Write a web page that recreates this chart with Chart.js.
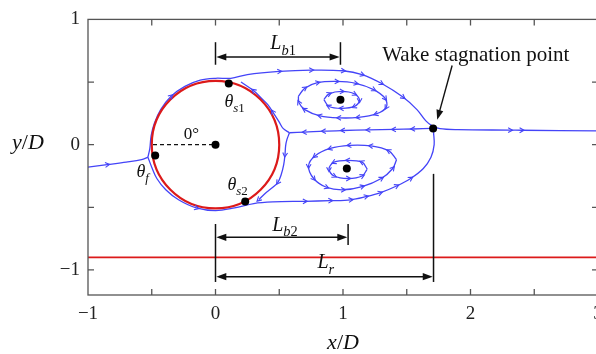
<!DOCTYPE html>
<html>
<head>
<meta charset="utf-8">
<script src="https://cdn.jsdelivr.net/npm/chart.js@4.4.1/dist/chart.umd.min.js"></script>
<style>
  html, body { margin: 0; padding: 0; overflow: hidden; background: #fff; }
</style>
</head>
<body>
<canvas id="flowChart" width="612" height="354"></canvas>
<script>
// axis ranges / ticks
const X_RANGE = [-1, 3];
const Y_RANGE = [-1.2, 1];
const TICK_STEP = 0.5;

// streamlines, [x/D, y/D]
const inflowLine = [[-1, -0.18], [-0.85, -0.16], [-0.7, -0.14], [-0.58, -0.12], [-0.53, -0.1]];
const upperSeparatrix = [[-0.53, -0.1], [-0.515, -0.03], [-0.505, 0.07], [-0.48, 0.17], [-0.43, 0.28], [-0.35, 0.385],
  [-0.24, 0.465], [-0.12, 0.515], [0, 0.53], [0.12, 0.53], [0.25, 0.56], [0.5, 0.585], [0.75, 0.595], [1.0, 0.59],
  [1.15, 0.56], [1.3, 0.49], [1.47, 0.38], [1.58, 0.28], [1.65, 0.19], [1.7, 0.15], [1.76, 0.128], [1.9, 0.12],
  [2.31, 0.116], [2.4, 0.115], [3, 0.11]];
const lowerSeparatrix = [[-0.53, -0.1], [-0.5, -0.18], [-0.46, -0.27], [-0.39, -0.36], [-0.29, -0.44], [-0.15, -0.505],
  [0, -0.527], [0.15, -0.505], [0.3, -0.47], [0.45, -0.457], [0.7, -0.452], [0.9, -0.447], [1.06, -0.44], [1.18, -0.415],
  [1.29, -0.385], [1.42, -0.33], [1.53, -0.27], [1.63, -0.19], [1.69, -0.1], [1.715, 0.0], [1.71, 0.1]];
const middleLine = [[1.7, 0.13], [1.55, 0.125], [1.4, 0.122], [1.2, 0.118], [1.0, 0.113], [0.85, 0.108], [0.7, 0.1], [0.58, 0.095]];
const upperInner = [[0.58, 0.095], [0.53, 0.13], [0.5, 0.18], [0.45, 0.26], [0.41, 0.32], [0.37, 0.36], [0.3, 0.43], [0.2, 0.5]];
const lowerInner = [[0.58, 0.095], [0.56, 0.04], [0.55, -0.01], [0.545, -0.08], [0.535, -0.16], [0.515, -0.24], [0.49, -0.3],
  [0.45, -0.34], [0.4, -0.38], [0.34, -0.437]];
const upperOuterLoop = [[0.65, 0.385], [0.7, 0.45], [0.8, 0.495], [0.95, 0.505], [1.1, 0.49], [1.24, 0.44], [1.33, 0.37],
  [1.34, 0.3], [1.26, 0.245], [1.12, 0.218], [0.97, 0.214], [0.82, 0.23], [0.7, 0.28], [0.655, 0.335], [0.65, 0.385]];
const upperInnerLoop = [[0.85, 0.36], [0.89, 0.405], [0.99, 0.425], [1.09, 0.405], [1.13, 0.355], [1.09, 0.305],
  [0.99, 0.29], [0.89, 0.305], [0.85, 0.36]];
const lowerOuterLoop = [[1.42, -0.12], [1.36, -0.05], [1.22, -0.01], [1.05, -0.005], [0.9, -0.03], [0.78, -0.09],
  [0.73, -0.17], [0.77, -0.27], [0.87, -0.34], [1.0, -0.36], [1.15, -0.335], [1.3, -0.27], [1.39, -0.19], [1.42, -0.12]];
const lowerInnerLoop = [[1.19, -0.195], [1.15, -0.14], [1.04, -0.125], [0.93, -0.14], [0.89, -0.195], [0.93, -0.25],
  [1.04, -0.27], [1.15, -0.25], [1.19, -0.195]];

// which points of each streamline carry a flow arrow
const inflowArrows = [1];
const upperSepArrows = [5, 11, 12, 13, 14, 15, 16, 22, 23];
const lowerSepArrows = [5, 10, 11, 12, 13, 14, 15, 16];
const middleArrows = [1, 2, 3, 4, 5, 6];
const upperInnerArrows = [3, 6];
const lowerInnerArrows = [3, 6, 9];

// special points: theta_f, theta_s1, theta_s2, centre, two vortex cores, wake stagnation
const markerPoints = [[-0.473, -0.086], [0.104, 0.489], [0.233, -0.453], [0, 0], [0.98, 0.358], [1.03, -0.19], [1.707, 0.13]];
const zeroAngleLine = [[-0.49, 0], [0, 0]];
const wallLine = [[-1, -0.9], [3, -0.9]];

// cylinder
const CYL_CENTER = [0, 0];
const CYL_RADIUS = 0.5;

// dimension bars Lb1, Lb2, Lr
const dimStart = [0, 0, 0];
const dimEnd = [0.98, 1.04, 1.71];
const dimLevel = [0.70, -0.74, -1.054];
const extX = [0, 0.98, 0, 1.04, 1.71];
const extTop = [0.818, 0.818, -0.633, -0.633, -0.233];
const extBottom = [0.638, 0.638, -1.096, -0.80, -1.096];

// labels: position (data coords, left/baseline) and rich text parts
const labelPos = [[0.43, 0.763], [0.445, -0.688], [0.80, -0.988], [0.07, 0.30], [-0.62, -0.256], [0.094, -0.358], [-0.25, 0.044]];
const labelParts = [
  [['L', 'i'], ['b', 'is'], ['1', 's']],
  [['L', 'i'], ['b', 'is'], ['2', 's']],
  [['L', 'i'], ['r', 'is']],
  [['θ', 'i'], ['s', 'is'], ['1', 's']],
  [['θ', 'i'], ['f', 'is']],
  [['θ', 'i'], ['s', 'is'], ['2', 's']],
  [['0°', '']]
];
const labelSize = [20, 20, 20, 18, 18, 18, 17];
const wakeText = 'Wake stagnation point';
const wakeTextPos = [1.307, 0.664];
const wakeArrow = [[1.856, 0.632], [1.739, 0.198]];

const BLUE = '#4444f8';
const RED = '#dc1a1a';
const SERIF = '"Liberation Serif", "Times New Roman", serif';

const pts = (arr) => arr.map(([x, y]) => ({ x, y }));

function stream(data, arrows, extra) {
  return Object.assign({
    data: pts(data),
    showLine: true,
    borderColor: BLUE,
    borderWidth: 1.3,
    pointRadius: 0,
    tension: 0.35,
    arrows: arrows,
    order: 5
  }, extra || {});
}

function drawRich(ctx, x, y, parts, size, align) {
  const fontFor = (style) => {
    const sub = style.includes('s');
    return `${style.includes('i') ? 'italic ' : ''}${sub ? size * 0.72 : size}px ${SERIF}`;
  };
  let total = 0;
  parts.forEach(([t, s]) => { ctx.font = fontFor(s); total += ctx.measureText(t).width; });
  let cx = align === 'center' ? x - total / 2 : x;
  ctx.textAlign = 'left';
  ctx.textBaseline = 'alphabetic';
  parts.forEach(([t, s]) => {
    ctx.font = fontFor(s);
    ctx.fillText(t, cx, y + (s.includes('s') ? size * 0.28 : 0));
    cx += ctx.measureText(t).width;
  });
}

function arrowHead(ctx, x0, y0, x1, y1, len, half) {
  const a = Math.atan2(y1 - y0, x1 - x0);
  ctx.beginPath();
  ctx.moveTo(x1, y1);
  ctx.lineTo(x1 - len * Math.cos(a) + half * Math.sin(a), y1 - len * Math.sin(a) - half * Math.cos(a));
  ctx.lineTo(x1 - len * Math.cos(a) - half * Math.sin(a), y1 - len * Math.sin(a) + half * Math.cos(a));
  ctx.closePath();
  ctx.fill();
}

// cylinder drawn just under the marker dots
const cylinderPlugin = {
  id: 'cylinder',
  beforeDatasetDraw(chart, args) {
    if (chart.data.datasets[args.index].id !== 'markers') return;
    const { ctx, scales: { x, y } } = chart;
    const cx = x.getPixelForValue(CYL_CENTER[0]);
    const cy = y.getPixelForValue(CYL_CENTER[1]);
    const r = x.getPixelForValue(CYL_CENTER[0] + CYL_RADIUS) - cx;
    ctx.save();
    ctx.strokeStyle = RED;
    ctx.lineWidth = 2.2;
    ctx.beginPath();
    ctx.arc(cx, cy, r, 0, Math.PI * 2);
    ctx.stroke();
    ctx.restore();
  }
};

// chevrons along streamlines
const flowArrowPlugin = {
  id: 'flowArrows',
  afterDatasetsDraw(chart) {
    const ctx = chart.ctx;
    ctx.save();
    ctx.strokeStyle = BLUE;
    ctx.lineWidth = 1.1;
    chart.data.datasets.forEach((ds, i) => {
      if (!ds.arrows) return;
      const els = chart.getDatasetMeta(i).data;
      const idx = ds.arrows === 'all' ? els.map((_, k) => k).slice(1, -1) : ds.arrows;
      idx.forEach((k) => {
        const p = els[k], a = els[Math.max(k - 1, 0)], b = els[Math.min(k + 1, els.length - 1)];
        const ang = Math.atan2(b.y - a.y, b.x - a.x);
        const tx = p.x + 2.5 * Math.cos(ang), ty = p.y + 2.5 * Math.sin(ang);
        ctx.beginPath();
        ctx.moveTo(tx - 5 * Math.cos(ang - 0.5), ty - 5 * Math.sin(ang - 0.5));
        ctx.lineTo(tx, ty);
        ctx.lineTo(tx - 5 * Math.cos(ang + 0.5), ty - 5 * Math.sin(ang + 0.5));
        ctx.stroke();
      });
    });
    ctx.restore();
  }
};

// frame, inward ticks, dimension bars, labels, axis titles
const annotatePlugin = {
  id: 'annotate',
  afterDraw(chart) {
    const { ctx, chartArea: ca, scales: { x, y } } = chart;
    ctx.save();
    // frame
    ctx.strokeStyle = '#555';
    ctx.lineWidth = 1.3;
    ctx.strokeRect(ca.left, ca.top, ca.right - ca.left, ca.bottom - ca.top);
    const isStep = (v) => Math.abs(v / TICK_STEP - Math.round(v / TICK_STEP)) < 1e-6;
    x.ticks.forEach((t) => {
      if (!isStep(t.value) || t.value <= X_RANGE[0] || t.value >= X_RANGE[1]) return;
      const px = x.getPixelForValue(t.value);
      ctx.beginPath();
      ctx.moveTo(px, ca.bottom); ctx.lineTo(px, ca.bottom - 6);
      ctx.moveTo(px, ca.top); ctx.lineTo(px, ca.top + 6);
      ctx.stroke();
    });
    y.ticks.forEach((t) => {
      if (!isStep(t.value) || t.value <= Y_RANGE[0] || t.value >= Y_RANGE[1]) return;
      const py = y.getPixelForValue(t.value);
      ctx.beginPath();
      ctx.moveTo(ca.left, py); ctx.lineTo(ca.left + 6, py);
      ctx.moveTo(ca.right, py); ctx.lineTo(ca.right - 6, py);
      ctx.stroke();
    });

    // dimension bars
    ctx.strokeStyle = '#111';
    ctx.fillStyle = '#111';
    ctx.lineWidth = 1.5;
    extX.forEach((ex, i) => {
      const px = x.getPixelForValue(ex);
      ctx.beginPath();
      ctx.moveTo(px, y.getPixelForValue(extTop[i]));
      ctx.lineTo(px, y.getPixelForValue(extBottom[i]));
      ctx.stroke();
    });
    dimStart.forEach((s, i) => {
      const x0 = x.getPixelForValue(s), x1 = x.getPixelForValue(dimEnd[i]);
      const py = y.getPixelForValue(dimLevel[i]);
      ctx.beginPath();
      ctx.moveTo(x0 + 4, py); ctx.lineTo(x1 - 4, py);
      ctx.stroke();
      arrowHead(ctx, x1, py, x0 + 0.8, py, 10, 3.6);
      arrowHead(ctx, x0, py, x1 - 0.8, py, 10, 3.6);
    });

    // wake stagnation arrow
    const ax0 = x.getPixelForValue(wakeArrow[0][0]), ay0 = y.getPixelForValue(wakeArrow[0][1]);
    const ax1 = x.getPixelForValue(wakeArrow[1][0]), ay1 = y.getPixelForValue(wakeArrow[1][1]);
    ctx.lineWidth = 1.4;
    ctx.beginPath();
    ctx.moveTo(ax0, ay0); ctx.lineTo(ax1 + (ax0 - ax1) * 0.1, ay1 + (ay0 - ay1) * 0.1);
    ctx.stroke();
    arrowHead(ctx, ax0, ay0, ax1, ay1, 10, 3.5);

    // labels
    ctx.fillStyle = '#111';
    labelPos.forEach(([lx, ly], i) => {
      drawRich(ctx, x.getPixelForValue(lx), y.getPixelForValue(ly), labelParts[i], labelSize[i], 'left');
    });
    drawRich(ctx, x.getPixelForValue(wakeTextPos[0]), y.getPixelForValue(wakeTextPos[1]), [[wakeText, '']], 21, 'left');

    // axis titles
    drawRich(ctx, (ca.left + ca.right) / 2, 349, [['x', 'i'], ['/', ''], ['D', 'i']], 22, 'center');
    drawRich(ctx, 12, 149, [['y', 'i'], ['/', ''], ['D', 'i']], 22, 'left');
    ctx.restore();
  }
};

const tickLabel = (v) => {
  if (Math.abs(v - Math.round(v)) > 1e-6) return '';
  const n = Math.round(v);
  return n < 0 ? '\u2212' + Math.abs(n) : String(n);
};

new Chart(document.getElementById('flowChart'), {
  type: 'scatter',
  data: {
    datasets: [
      { id: 'markers', data: pts(markerPoints), pointRadius: 4, pointBackgroundColor: '#000', pointBorderWidth: 0, showLine: false, order: 0 },
      { data: pts(zeroAngleLine), showLine: true, borderColor: '#111', borderWidth: 1.4, borderDash: [4, 3], pointRadius: 0, order: 1 },
      { data: pts(wallLine), showLine: true, borderColor: RED, borderWidth: 1.6, pointRadius: 0, order: 2 },
      stream(inflowLine, inflowArrows),
      stream(upperSeparatrix, upperSepArrows),
      stream(lowerSeparatrix, lowerSepArrows),
      stream(middleLine, middleArrows),
      stream(upperInner, upperInnerArrows),
      stream(lowerInner, lowerInnerArrows),
      stream(upperOuterLoop, 'all'),
      stream(upperInnerLoop, 'all'),
      stream(lowerOuterLoop, 'all'),
      stream(lowerInnerLoop, 'all')
    ]
  },
  options: {
    responsive: false,
    animation: false,
    devicePixelRatio: 1,
    layout: { padding: { top: 15, right: 14, left: 0, bottom: 0 } },
    plugins: { legend: { display: false }, tooltip: { enabled: false } },
    scales: {
      x: {
        type: 'linear', min: X_RANGE[0], max: X_RANGE[1],
        grid: { display: false, drawTicks: false },
        border: { display: false },
        ticks: { stepSize: TICK_STEP, autoSkip: false, maxRotation: 0, padding: 8, color: '#222',
          font: { family: SERIF, size: 19 }, callback: tickLabel },
        afterFit: (s) => { s.height = 59; }
      },
      y: {
        type: 'linear', min: Y_RANGE[0], max: Y_RANGE[1],
        grid: { display: false, drawTicks: false },
        border: { display: false },
        ticks: { stepSize: TICK_STEP, autoSkip: false, padding: 8, color: '#222',
          font: { family: SERIF, size: 19 }, callback: tickLabel },
        afterFit: (s) => { s.width = 88; }
      }
    }
  },
  plugins: [cylinderPlugin, flowArrowPlugin, annotatePlugin]
});
</script>
</body>
</html>
